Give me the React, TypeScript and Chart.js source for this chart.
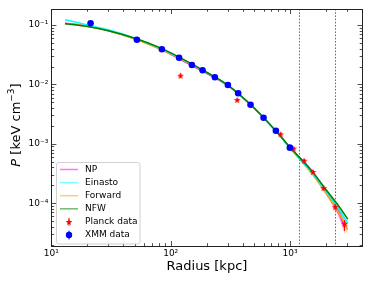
import React, { useEffect, useRef } from "react";
import { Chart, registerables } from "chart.js";

Chart.register(...registerables);

// ---- data ----
const xMin = 10;
const xMax = 4055;
const yMin = 1.9e-5;
const yMax = 0.186;

const xMajorTicks = [10, 100, 1000];
const xTickLabels = ["10\u00B9", "10\u00B2", "10\u00B3"];
const yMajorTicks = [1e-4, 1e-3, 1e-2, 1e-1];
const yTickLabels = ["10\u207B\u2074", "10\u207B\u00B3", "10\u207B\u00B2", "10\u207B\u00B9"];

const modelRadius = [13, 20, 30, 50, 80, 120, 200, 300, 500, 800, 1000, 1500, 2000, 2500, 3050];
const npRadius = [13, 20, 30, 50, 80, 120, 200, 300, 500, 800, 1000, 1500, 2000, 2500, 2880];
const npValues = [0.107, 0.096, 0.081, 0.059, 0.040, 0.0265, 0.0153, 0.0096, 0.0040, 0.00148, 0.00087, 0.00036, 0.000160, 8.0e-5, 3.9e-5];
const einastoValues = [0.123, 0.100, 0.083, 0.060, 0.0415, 0.0277, 0.0158, 0.0097, 0.0040, 0.00146, 0.00085, 0.00034, 0.000160, 8.6e-5, 4.6e-5];
const forwardValues = [0.106, 0.095, 0.080, 0.058, 0.040, 0.0272, 0.0158, 0.0097, 0.0040, 0.00147, 0.00085, 0.00033, 0.000150, 7.5e-5, 3.6e-5];
const nfwValues = [0.105, 0.094, 0.080, 0.060, 0.042, 0.0282, 0.0160, 0.0098, 0.0040, 0.00148, 0.00087, 0.00036, 0.000170, 9.6e-5, 5.4e-5];

const bandRadius = [1000, 1500, 2000, 2500, 3050];
const npBandRadius = [1000, 1500, 2000, 2500, 2880];
const npLo = [0.00085, 0.00033, 0.000140, 6.6e-5, 3.0e-5];
const npHi = [0.00088, 0.00039, 0.000178, 9.2e-5, 4.8e-5];
const einastoLo = [0.00084, 0.00033, 0.000152, 8.0e-5, 4.1e-5];
const einastoHi = [0.00086, 0.00035, 0.000168, 9.2e-5, 5.2e-5];
const forwardLo = [0.00084, 0.00031, 0.000138, 6.6e-5, 2.9e-5];
const forwardHi = [0.00086, 0.00035, 0.000162, 8.4e-5, 4.3e-5];

const planckRadius = [121, 361, 834, 1072, 1315, 1556, 1912, 2393, 2869];
const planckValues = [0.0140, 0.00546, 0.00145, 0.00083, 0.00052, 0.000335, 0.00018, 8.6e-5, 4.5e-5];
const planckLo = [0.0128, 0.0051, 0.00135, 0.00077, 0.000485, 0.000312, 0.000165, 7.6e-5, 3.4e-5];
const planckHi = [0.0153, 0.0058, 0.00155, 0.00088, 0.000555, 0.000358, 0.000195, 9.7e-5, 5.2e-5];

const xmmRadius = [21.3, 52.1, 84.4, 117.6, 150.6, 185, 234.7, 301.7, 368, 467, 600.6, 761.7, 998];
const xmmValues = [0.107, 0.0565, 0.039, 0.0281, 0.0212, 0.0173, 0.0132, 0.00977, 0.00708, 0.00455, 0.00275, 0.00166, 0.00086];
const xmmLo = [0.103, 0.0550, 0.0382, 0.0276, 0.0208, 0.0170, 0.0130, 0.00962, 0.00697, 0.00447, 0.00270, 0.00162, 0.00083];
const xmmHi = [0.111, 0.0580, 0.0398, 0.0286, 0.0216, 0.0176, 0.0134, 0.00992, 0.00719, 0.00463, 0.00280, 0.00170, 0.00089];

const vLines = [1200, 2400];

const legendItems = [
  { label: "NP", kind: "line", color: "rgba(255,0,255,0.55)" },
  { label: "Einasto", kind: "line", color: "rgba(0,255,255,0.55)" },
  { label: "Forward", kind: "line", color: "rgba(255,165,0,0.55)" },
  { label: "NFW", kind: "line", color: "rgba(0,128,0,0.55)" },
  { label: "Planck data", kind: "star", color: "#ff0000" },
  { label: "XMM data", kind: "dot", color: "#0000ff" },
];

const FONT = "DejaVu Sans";

function pts(xs: number[], ys: number[]) {
  return xs.map((x, i) => ({ x, y: ys[i] }));
}

function drawStar(ctx: CanvasRenderingContext2D, cx: number, cy: number, R: number, color: string) {
  const r = R * 0.42;
  ctx.beginPath();
  for (let i = 0; i < 10; i++) {
    const a = -Math.PI / 2 + (i * Math.PI) / 5;
    const rad = i % 2 === 0 ? R : r;
    const px = cx + rad * Math.cos(a);
    const py = cy + rad * Math.sin(a);
    if (i === 0) ctx.moveTo(px, py);
    else ctx.lineTo(px, py);
  }
  ctx.closePath();
  ctx.fillStyle = color;
  ctx.fill();
}

function makeStarImage() {
  const c = document.createElement("canvas");
  c.width = 8;
  c.height = 8;
  const g = c.getContext("2d")!;
  drawStar(g, 4, 4.3, 3.5, "#ff0000");
  return c;
}

const decorPlugin = {
  id: "decor",
  beforeDatasetsDraw(chart: any) {
    const { ctx, chartArea } = chart;
    const xs = chart.scales.x;
    ctx.save();
    ctx.strokeStyle = "#444";
    ctx.lineWidth = 0.8;
    ctx.setLineDash([1.6, 1.6]);
    vLines.forEach((v) => {
      const px = Math.round(xs.getPixelForValue(v)) + 0.5;
      ctx.beginPath();
      ctx.moveTo(px, chartArea.top);
      ctx.lineTo(px, chartArea.bottom);
      ctx.stroke();
    });
    ctx.restore();
  },
  beforeDatasetDraw(chart: any, args: any) {
    const ds = chart.data.datasets[args.index];
    if (!ds.errKey) return;
    const { ctx } = chart;
    const xs = chart.scales.x;
    const ys = chart.scales.y;
    const rad = ds.errKey === "planck" ? planckRadius : xmmRadius;
    const lo = ds.errKey === "planck" ? planckLo : xmmLo;
    const hi = ds.errKey === "planck" ? planckHi : xmmHi;
    ctx.save();
    ctx.strokeStyle = ds.errKey === "planck" ? "#ff0000" : "#0000ff";
    ctx.lineWidth = 1;
    rad.forEach((r, i) => {
      const px = xs.getPixelForValue(r);
      ctx.beginPath();
      ctx.moveTo(px, ys.getPixelForValue(lo[i]));
      ctx.lineTo(px, ys.getPixelForValue(hi[i]));
      ctx.stroke();
    });
    ctx.restore();
  },
  afterDraw(chart: any) {
    const { ctx, chartArea } = chart;
    const { left, right, top, bottom } = chartArea;
    const xs = chart.scales.x;
    const ys = chart.scales.y;
    ctx.save();
    // ticks
    ctx.strokeStyle = "#222";
    ctx.lineWidth = 0.8;
    const majorL = 5;
    const minorL = 2.8;
    for (let d = 1; d <= 4; d++) {
      for (let m = 1; m <= 9; m++) {
        const v = m * Math.pow(10, d);
        if (v < xMin || v > xMax) continue;
        const px = Math.round(xs.getPixelForValue(v)) + 0.5;
        const L = m === 1 ? majorL : minorL;
        ctx.beginPath();
        ctx.moveTo(px, bottom);
        ctx.lineTo(px, bottom - L);
        ctx.moveTo(px, top);
        ctx.lineTo(px, top + L);
        ctx.stroke();
      }
    }
    for (let d = -5; d <= -1; d++) {
      for (let m = 1; m <= 9; m++) {
        const v = m * Math.pow(10, d);
        if (v < yMin || v > yMax) continue;
        const py = Math.round(ys.getPixelForValue(v)) + 0.5;
        const L = m === 1 ? majorL : minorL;
        ctx.beginPath();
        ctx.moveTo(left, py);
        ctx.lineTo(left + L, py);
        ctx.moveTo(right, py);
        ctx.lineTo(right - L, py);
        ctx.stroke();
      }
    }
    // spines
    ctx.strokeStyle = "#222";
    ctx.lineWidth = 1;
    ctx.strokeRect(Math.round(left) + 0.5, Math.round(top) + 0.5, Math.round(right - left), Math.round(bottom - top));

    // legend
    const bx = 56.5, by = 162.5, bw = 83.5, bh = 81.5;
    ctx.beginPath();
    const rr = 2.5;
    ctx.moveTo(bx + rr, by);
    ctx.lineTo(bx + bw - rr, by);
    ctx.quadraticCurveTo(bx + bw, by, bx + bw, by + rr);
    ctx.lineTo(bx + bw, by + bh - rr);
    ctx.quadraticCurveTo(bx + bw, by + bh, bx + bw - rr, by + bh);
    ctx.lineTo(bx + rr, by + bh);
    ctx.quadraticCurveTo(bx, by + bh, bx, by + bh - rr);
    ctx.lineTo(bx, by + rr);
    ctx.quadraticCurveTo(bx, by, bx + rr, by);
    ctx.closePath();
    ctx.fillStyle = "rgba(255,255,255,0.8)";
    ctx.fill();
    ctx.strokeStyle = "#d0d0d0";
    ctx.lineWidth = 1;
    ctx.stroke();
    ctx.font = `9px '${FONT}'`;
    ctx.textBaseline = "middle";
    ctx.textAlign = "left";
    legendItems.forEach((it, i) => {
      const y = 169.5 + i * 13.1;
      if (it.kind === "line") {
        ctx.strokeStyle = it.color;
        ctx.lineWidth = 1.5;
        ctx.beginPath();
        ctx.moveTo(60, y);
        ctx.lineTo(78, y);
        ctx.stroke();
      } else if (it.kind === "star") {
        ctx.strokeStyle = it.color;
        ctx.lineWidth = 1;
        ctx.beginPath();
        ctx.moveTo(69, y - 4);
        ctx.lineTo(69, y + 4);
        ctx.stroke();
        drawStar(ctx, 69, y + 0.3, 3.5, it.color);
      } else {
        ctx.strokeStyle = it.color;
        ctx.lineWidth = 1;
        ctx.beginPath();
        ctx.moveTo(69, y - 4.5);
        ctx.lineTo(69, y + 4.5);
        ctx.stroke();
        ctx.fillStyle = it.color;
        ctx.beginPath();
        ctx.arc(69, y, 3.2, 0, Math.PI * 2);
        ctx.fill();
      }
      ctx.fillStyle = "#000";
      ctx.fillText(it.label, 85, y);
    });

    // axis titles
    ctx.fillStyle = "#000";
    ctx.font = `13px '${FONT}'`;
    ctx.textAlign = "center";
    ctx.textBaseline = "middle";
    ctx.fillText("Radius [kpc]", (left + right) / 2, 267);

    // y title, rotated
    ctx.save();
    ctx.translate(15, 125);
    ctx.rotate(-Math.PI / 2);
    const partA = "P";
    const partB = " [keV cm";
    const partC = "\u22123";
    const partD = "]";
    ctx.font = `italic 13px '${FONT}'`;
    const wA = ctx.measureText(partA).width;
    ctx.font = `13px '${FONT}'`;
    const wB = ctx.measureText(partB).width;
    const wD = ctx.measureText(partD).width;
    ctx.font = `9px '${FONT}'`;
    const wC = ctx.measureText(partC).width;
    const total = wA + wB + wC + wD;
    let x0 = -total / 2;
    ctx.textAlign = "left";
    ctx.textBaseline = "alphabetic";
    const base = 4.5;
    ctx.font = `italic 13px '${FONT}'`;
    ctx.fillText(partA, x0, base);
    x0 += wA;
    ctx.font = `13px '${FONT}'`;
    ctx.fillText(partB, x0, base);
    x0 += wB;
    ctx.font = `9px '${FONT}'`;
    ctx.fillText(partC, x0, base - 5.5);
    x0 += wC;
    ctx.font = `13px '${FONT}'`;
    ctx.fillText(partD, x0, base);
    ctx.restore();

    ctx.restore();
  },
};

export default function App() {
  const ref = useRef<HTMLCanvasElement>(null);
  useEffect(() => {
    const starImg = makeStarImage();
    const line = (label: string, xs: number[], ys: number[], color: string, order: number) => ({
      label,
      data: pts(xs, ys),
      borderColor: color,
      backgroundColor: color,
      borderWidth: 1.5,
      pointRadius: 0,
      fill: false,
      tension: 0.3,
      order,
    });
    const bandLo = (xs: number[], ys: number[], order: number) => ({
      label: "lo",
      data: pts(xs, ys),
      borderWidth: 0,
      borderColor: "rgba(0,0,0,0)",
      pointRadius: 0,
      fill: false,
      tension: 0.3,
      order,
    });
    const bandHi = (xs: number[], ys: number[], color: string, order: number) => ({
      label: "hi",
      data: pts(xs, ys),
      borderWidth: 0,
      borderColor: "rgba(0,0,0,0)",
      backgroundColor: color,
      pointRadius: 0,
      fill: "-1",
      tension: 0.3,
      order,
    });
    const chart = new Chart(ref.current!, {
      type: "line",
      data: {
        datasets: [
          bandLo(bandRadius, forwardLo, 20),
          bandHi(bandRadius, forwardHi, "rgba(255,165,0,0.4)", 20),
          bandLo(bandRadius, einastoLo, 19),
          bandHi(bandRadius, einastoHi, "rgba(0,255,255,0.4)", 19),
          bandLo(npBandRadius, npLo, 18),
          bandHi(npBandRadius, npHi, "rgba(255,0,255,0.4)", 18),
          line("NP", npRadius, npValues, "#ff00ff", 14),
          line("Forward", modelRadius, forwardValues, "#ffa500", 13),
          line("Einasto", modelRadius, einastoValues, "#00ffff", 12),
          line("NFW", modelRadius, nfwValues, "#008000", 11),
          {
            label: "Planck data",
            data: pts(planckRadius, planckValues),
            showLine: false,
            pointStyle: starImg,
            pointRadius: 3.5,
            borderColor: "#ff0000",
            backgroundColor: "#ff0000",
            errKey: "planck",
            order: 2,
          } as any,
          {
            label: "XMM data",
            data: pts(xmmRadius, xmmValues),
            showLine: false,
            pointStyle: "circle",
            pointRadius: 3.3,
            borderWidth: 0,
            borderColor: "#0000ff",
            backgroundColor: "#0000ff",
            errKey: "xmm",
            order: 1,
          } as any,
        ],
      },
      options: {
        animation: false,
        responsive: false,
        maintainAspectRatio: false,
        layout: { padding: { left: 0, right: 11.5, top: 9, bottom: 0 } },
        plugins: { legend: { display: false }, tooltip: { enabled: false } },
        scales: {
          x: {
            type: "logarithmic",
            min: xMin,
            max: xMax,
            grid: { display: false, drawTicks: false },
            border: { display: false },
            ticks: {
              color: "#000",
              font: { family: FONT, size: 9 },
              padding: 2,
              maxRotation: 0,
              autoSkip: false,
              callback: (_v: any, i: number) => xTickLabels[i],
            },
            afterBuildTicks: (axis: any) => {
              axis.ticks = xMajorTicks.map((v) => ({ value: v }));
            },
            afterFit: (s: any) => {
              s.height = 42;
            },
          },
          y: {
            type: "logarithmic",
            min: yMin,
            max: yMax,
            grid: { display: false, drawTicks: false },
            border: { display: false },
            ticks: {
              color: "#000",
              font: { family: FONT, size: 9 },
              padding: 3,
              autoSkip: false,
              callback: (_v: any, i: number) => yTickLabels[i],
            },
            afterBuildTicks: (axis: any) => {
              axis.ticks = yMajorTicks.map((v) => ({ value: v }));
            },
            afterFit: (s: any) => {
              s.width = 51.4;
            },
          },
        },
      } as any,
      plugins: [decorPlugin as any],
    });
    return () => chart.destroy();
  }, []);
  return (
    <div style={{ position: "fixed", left: 0, top: 0, width: 374, height: 288, background: "#fff" }}>
      <canvas ref={ref} width={374} height={288} style={{ width: 374, height: 288, display: "block" }} />
    </div>
  );
}
